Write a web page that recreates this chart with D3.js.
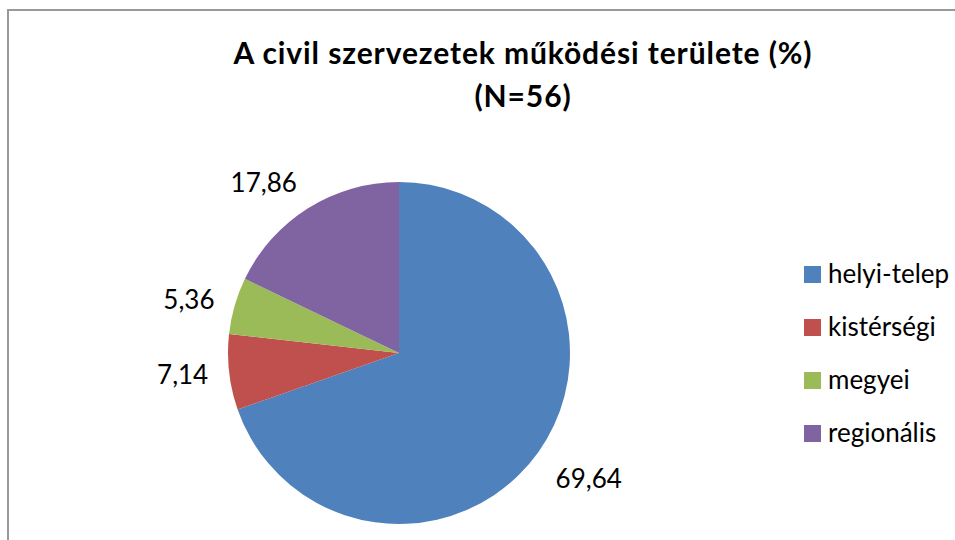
<!DOCTYPE html>
<html>
<head>
<meta charset="utf-8">
<script src="https://cdn.jsdelivr.net/npm/d3@7"></script>
<style>
  body { margin: 0; background: #fff; }
  text { font-family: Lato, "Open Sans", sans-serif; fill: #000; }
</style>
</head>
<body>
<script>
const categories = ['helyi-telep', 'kistérségi', 'megyei', 'regionális'];
const values = [69.64, 7.14, 5.36, 17.86];
const labels = ['69,64', '7,14', '5,36', '17,86'];
const colors = ['#4F81BD', '#C0504D', '#9BBB59', '#8064A2'];
const titleLines = ['A civil szervezetek működési területe (%)', '(N=56)'];

const width = 955, height = 540;
const svg = d3.select('body').append('svg')
  .attr('width', width)
  .attr('height', height);

// chart area border, runs off the right and bottom edges
svg.append('rect')
  .attr('x', 8).attr('y', 10)
  .attr('width', 1000).attr('height', 600)
  .attr('fill', '#fff')
  .attr('stroke', '#999')
  .attr('stroke-width', 2);

svg.selectAll('.title')
  .data(titleLines)
  .enter()
  .append('text')
  .attr('class', 'title')
  .attr('x', 523)
  .attr('y', (d, i) => 64 + i * 43)
  .attr('text-anchor', 'middle')
  .style('font-size', '30px')
  .style('font-weight', 'bold')
  .style('letter-spacing', '0.9px')
  .text(d => d);

const cx = 399, cy = 353, r = 171;
const pie = d3.pie().sort(null).value(d => d);
const arcs = pie(values);
const arc = d3.arc().innerRadius(0).outerRadius(r);

const g = svg.append('g').attr('transform', `translate(${cx},${cy})`);
g.selectAll('path')
  .data(arcs)
  .enter()
  .append('path')
  .attr('d', arc)
  .attr('fill', (d, i) => colors[i]);

// data labels just outside the slices
const lr = 192;
g.selectAll('.lbl')
  .data(arcs)
  .enter()
  .append('text')
  .attr('class', 'lbl')
  .each(function (d, i) {
    const a = (d.startAngle + d.endAngle) / 2;
    const sx = Math.sin(a), sy = -Math.cos(a);
    const x = sx * lr, y = sy * lr;
    const anchor = sx < -0.3 ? 'end' : (sx > 0.3 ? 'start' : 'middle');
    let dy = 9;
    if (sy < -0.3) dy = 2;
    else if (sy > 0.3) dy = 24;
    d3.select(this)
      .attr('x', x)
      .attr('y', y + dy)
      .attr('text-anchor', anchor)
      .style('font-size', '26px')
      .text(labels[i]);
  });

const legend = svg.append('g')
  .selectAll('g')
  .data(categories)
  .enter()
  .append('g')
  .attr('transform', (d, i) => `translate(804,${266 + i * 53})`);

legend.append('rect')
  .attr('width', 17)
  .attr('height', 17)
  .attr('fill', (d, i) => colors[i]);

legend.append('text')
  .attr('x', 24)
  .attr('y', 17)
  .style('font-size', '26px')
  .text(d => d);
</script>
</body>
</html>
